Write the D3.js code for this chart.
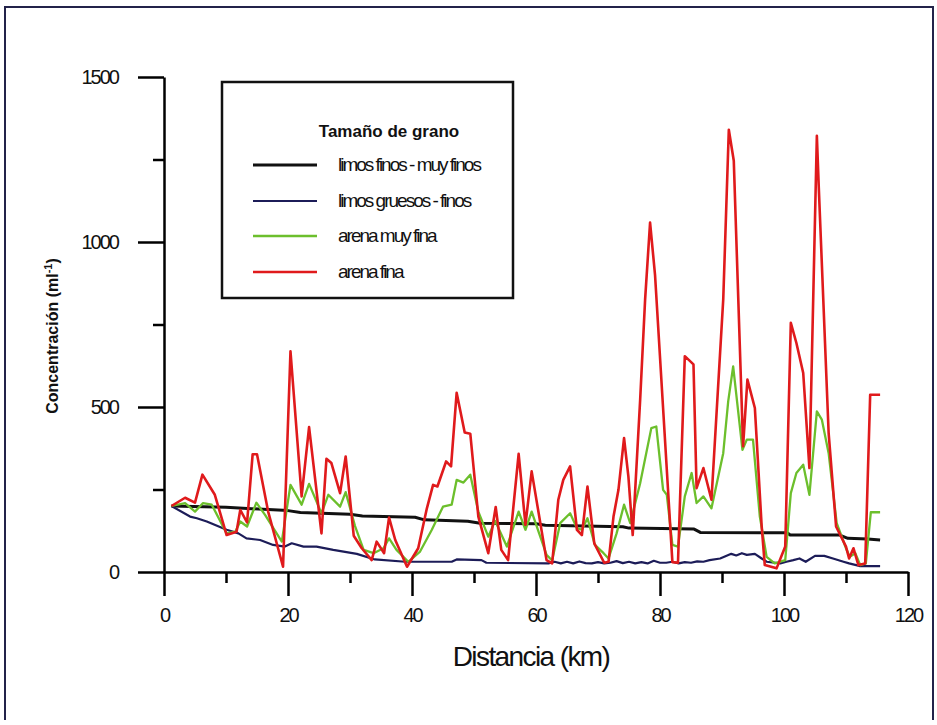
<!DOCTYPE html>
<html>
<head>
<meta charset="utf-8">
<script src="https://cdn.jsdelivr.net/npm/d3@7"></script>
<style>
  body { margin: 0; background: #fff; }
  text { font-family: "Liberation Sans", Arial, sans-serif; }
</style>
</head>
<body>
<div id="container"></div>
<script>
//Distance (km) and concentration for each grain size
var finosKm  = [1.2, 10, 16, 20, 22, 30, 32, 40.5, 42, 49, 51, 60, 61.5, 74, 75, 85.5, 86.5, 100.5, 101, 109, 110.3, 113.5, 115.5];
var finosVal = [200, 196, 190, 186, 180, 175, 170, 166, 158, 154, 148, 146, 142, 137, 133, 130, 120, 119, 112, 112, 102, 100, 97];

var gruesosKm  = [1.2, 4.2, 5.3, 6.9, 10.1, 12, 13.3, 15.5, 17.6, 19.5, 20.6, 22.5, 24.6, 27.3, 31.1, 34, 38.9, 46.4, 47.2, 51.2, 52, 62,
  63, 64, 65, 66, 67, 68, 69, 70, 71, 72, 73, 74, 75, 76, 77, 78, 79, 80, 81, 82, 83, 84, 85, 86, 87, 88,
  89.7, 91.5, 92.3, 93.2, 94, 95.3, 96.4, 97.2, 99.4, 100.4, 101.5, 102.5, 103.5, 105, 106.5, 107.9, 109.6, 110.5, 112.3, 115.5];
var gruesosVal = [200, 168, 163, 153, 128, 117, 102, 97, 82, 77, 87, 77, 77, 67, 55, 38, 31, 31, 38, 36, 28, 26,
  31, 26, 31, 26, 32, 27, 26, 30, 26, 28, 33, 27, 31, 26, 30, 26, 34, 28, 28, 31, 26, 30, 28, 32, 31, 36,
  41, 55, 50, 57, 52, 55, 41, 31, 26, 31, 36, 41, 31, 49, 49, 41, 31, 26, 18, 18];

var muyFinaKm  = [1.2, 3.4, 5, 6.3, 7.7, 10.1, 11.5, 12.3, 13.4, 14.9, 16.3, 19, 20.4, 22.2, 23.4, 25.4, 26.5, 28.4, 29.3, 30.8,
  32.2, 33.8, 35.4, 36.3, 37.5, 39.4, 41.3, 43.2, 45, 46.4, 47.2, 48.3, 49.4, 50.7, 52.3, 53.4, 55.3, 57.2, 58.3, 59.3,
  61.7, 62.6, 63.9, 65.5, 66.6, 67.4, 68.3, 69.5, 70.9, 71.7, 73, 74.2, 75.2, 76.8, 78.6, 79.4, 80.5, 81.1, 82, 82.9,
  84, 85.1, 85.9, 87, 88.3, 90.2, 91, 91.8, 93.3, 94, 95, 96.1, 97.2, 98.5, 100.2, 101.1, 102, 103.1, 104.1, 105.3,
  106.1, 107.2, 108.5, 110, 110.6, 111.5, 112.3, 113.2, 114, 115.5];
var muyFinaVal = [200, 209, 183, 209, 204, 117, 122, 153, 138, 210, 173, 92, 264, 204, 267, 178, 234, 198, 242, 140,
  67, 57, 72, 102, 67, 31, 62, 128, 198, 204, 279, 271, 295, 183, 107, 155, 77, 183, 128, 183,
  52, 35, 148, 178, 133, 128, 163, 82, 57, 41, 117, 204, 148, 269, 436, 441, 249, 234, 82, 77,
  229, 300, 209, 229, 193, 360, 517, 623, 370, 401, 401, 168, 46, 26, 36, 239, 300, 325, 234, 487,
  462, 360, 148, 72, 46, 57, 21, 26, 181, 181];

var finaKm  = [1.2, 3.4, 5, 6.2, 8.2, 10.1, 11.7, 12.3, 13.4, 14.3, 15, 16.8, 19.2, 20.4, 22.2, 23.4, 25.4, 26.2, 27, 28.4,
  29.3, 30.6, 31.9, 33.5, 34.3, 35.5, 36.3, 37.3, 39.2, 41, 42.4, 43.4, 44.1, 45.5, 46.3, 47.2, 48.5, 49.4, 50.7, 52.3,
  53.5, 54.4, 55.5, 57.2, 58.3, 59.3, 61.7, 62.6, 63.6, 64.4, 65.5, 66.6, 67.4, 68.3, 69.4, 71, 71.7, 72.5, 73.3, 74.2,
  74.9, 75.6, 76.8, 77.6, 78.4, 79.2, 82, 82.9, 84, 85.4, 85.9, 87, 88.3, 90.2, 91.1, 91.9, 93.4, 94.1, 95.3, 96.4,
  96.9, 98.8, 100.2, 101.1, 102, 103.1, 104.1, 105.3, 105.6, 107.2, 108.4, 110, 110.5, 111.2, 112, 113.1, 113.9, 115.5];
var finaVal = [200, 225, 210, 295, 234, 112, 122, 188, 150, 357, 357, 183, 16, 669, 229, 439, 117, 343, 330, 239,
  350, 110, 72, 36, 92, 57, 165, 97, 16, 72, 193, 264, 259, 335, 320, 543, 423, 419, 168, 57,
  197, 67, 36, 358, 143, 305, 36, 26, 219, 279, 320, 128, 112, 259, 87, 28, 31, 168, 249, 406,
  290, 112, 522, 826, 1059, 900, 30, 28, 654, 629, 254, 315, 219, 826, 1340, 1246, 381, 583, 497, 138,
  21, 11, 77, 755, 694, 603, 315, 1322, 1170, 421, 138, 77, 41, 72, 21, 26, 537, 537];

var xMajor = [0, 20, 40, 60, 80, 100, 120],
    xMinor = [10, 30, 50, 70, 90, 110],
    yMajor = [0, 500, 1000, 1500],
    yMinor = [250, 750, 1250];

var series = [
  { name: "limos finos - muy finos", km: finosKm, val: finosVal, color: "#111111", w: 3 },
  { name: "limos gruesos - finos", km: gruesosKm, val: gruesosVal, color: "#1c1c58", w: 2.2 },
  { name: "arena muy fina", km: muyFinaKm, val: muyFinaVal, color: "#6cbf2c", w: 2.3 },
  { name: "arena fina", km: finaKm, val: finaVal, color: "#e01a1c", w: 2.6 }
];

var width = 937, height = 725;

var svg = d3.select("#container").append("svg")
    .attr("width", width)
    .attr("height", height);

//Outer frame (top, left and right sides)
svg.append("path")
    .attr("d", "M5,720 L5,7 L933,7 L933,720")
    .attr("fill", "none")
    .attr("stroke", "#23234a")
    .attr("stroke-width", 2);

var x = d3.scaleLinear().domain([0, 120]).range([164, 908]);
var y = d3.scaleLinear().domain([0, 1500]).range([572, 77]);

//Minor ticks first, then major ticks with labels
svg.append("g")
    .attr("transform", "translate(0,572)")
    .call(d3.axisBottom(x).tickValues(xMinor).tickSize(11).tickFormat(""))
    .call(g => g.select(".domain").remove());

svg.append("g")
    .attr("transform", "translate(0,572)")
    .call(d3.axisBottom(x).tickValues(xMajor).tickFormat(d3.format("d"))
        .tickSizeInner(24).tickSizeOuter(0).tickPadding(12));

svg.append("g")
    .attr("transform", "translate(164,0)")
    .call(d3.axisLeft(y).tickValues(yMinor).tickSize(11).tickFormat(""))
    .call(g => g.select(".domain").remove());

svg.append("g")
    .attr("transform", "translate(164,0)")
    .call(d3.axisLeft(y).tickValues(yMajor).tickFormat(d3.format("d"))
        .tickSizeInner(26).tickSizeOuter(0).tickPadding(20));

svg.selectAll(".tick line, .domain")
    .attr("stroke", "#000")
    .attr("stroke-width", 2.5);

svg.selectAll(".tick text")
    .attr("fill", "#111")
    .style("font-size", "20px")
    .style("letter-spacing", "-2px");

//Axis titles
svg.append("text")
    .attr("x", 531)
    .attr("y", 666)
    .attr("text-anchor", "middle")
    .style("font-size", "28px")
    .style("letter-spacing", "-1.6px")
    .attr("fill", "#111")
    .text("Distancia (km)");

var yTitle = svg.append("text")
    .attr("transform", "translate(58,336) rotate(-90)")
    .attr("text-anchor", "middle")
    .style("font-size", "16px")
    .style("font-weight", "bold")
    .attr("fill", "#111");
yTitle.append("tspan").text("Concentración (ml");
yTitle.append("tspan").attr("dy", -6).style("font-size", "11px").text("-1");
yTitle.append("tspan").attr("dy", 6).text(")");

//Lines
var line = d3.line()
    .x(d => x(d[0]))
    .y(d => y(d[1]));

svg.append("g")
    .selectAll("path")
    .data(series)
    .enter().append("path")
    .attr("d", s => line(d3.zip(s.km, s.val)))
    .attr("fill", "none")
    .attr("stroke", s => s.color)
    .attr("stroke-width", s => s.w)
    .attr("stroke-linejoin", "round");

//Legend
var legend = svg.append("g");
legend.append("rect")
    .attr("x", 222).attr("y", 82)
    .attr("width", 291).attr("height", 216)
    .attr("fill", "#fff")
    .attr("stroke", "#111")
    .attr("stroke-width", 2.5);

legend.append("text")
    .attr("x", 389).attr("y", 137)
    .attr("text-anchor", "middle")
    .style("font-size", "17px")
    .style("font-weight", "bold")
    .attr("fill", "#111")
    .text("Tamaño de grano");

var rowY = [165, 201, 236, 272];
var rows = legend.selectAll(".row")
    .data(series)
    .enter().append("g")
    .attr("class", "row")
    .attr("transform", (s, i) => "translate(0," + rowY[i] + ")");

rows.append("line")
    .attr("x1", 253).attr("x2", 317)
    .attr("stroke", s => s.color)
    .attr("stroke-width", s => s.w);

rows.append("text")
    .attr("x", 338).attr("y", 6)
    .style("font-size", "19px")
    .style("letter-spacing", "-2px")
    .attr("fill", "#111")
    .text(s => s.name);
</script>
</body>
</html>
